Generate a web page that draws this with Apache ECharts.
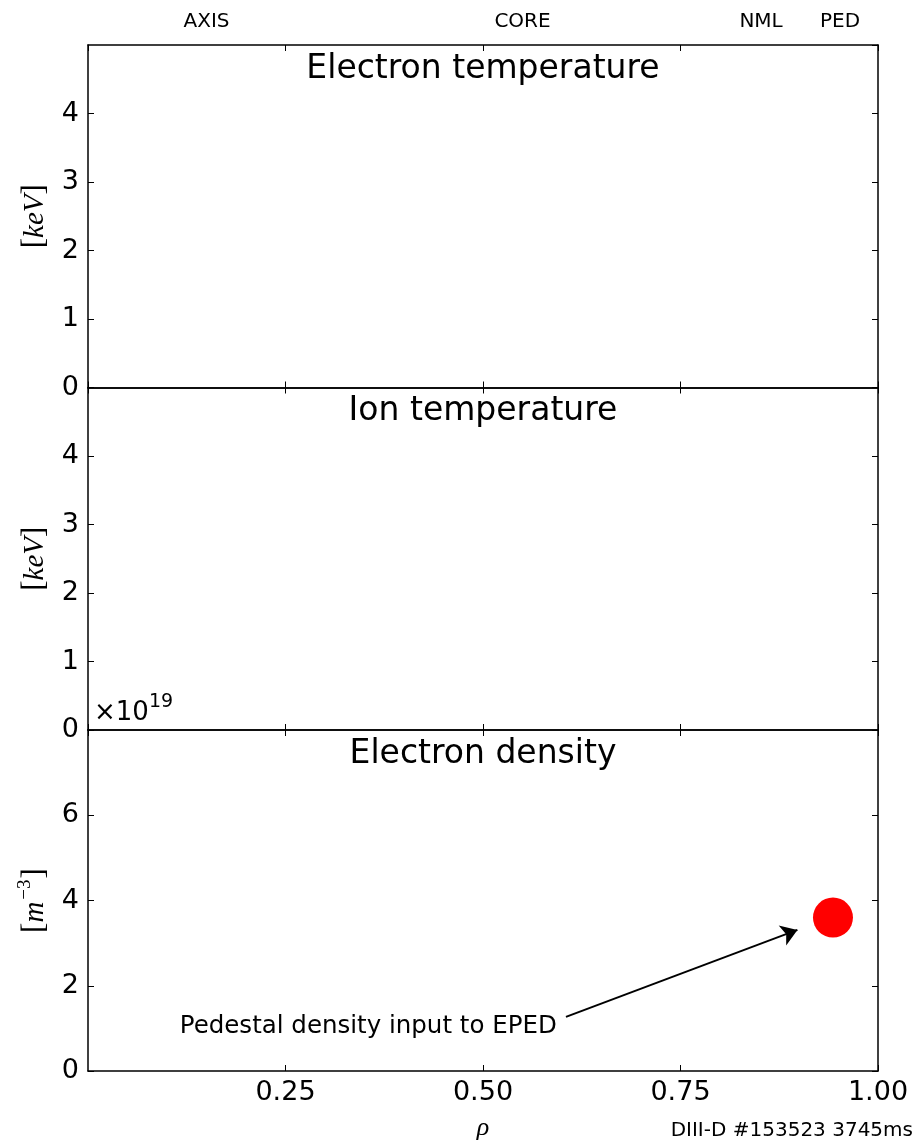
<!DOCTYPE html>
<html><head><meta charset="utf-8">
<script src="https://cdn.jsdelivr.net/npm/echarts@6/dist/echarts.min.js"></script>
<style>html,body{margin:0;padding:0;background:#fff}#c{width:918px;height:1142px}</style>
</head><body><div id="c"></div>
<script>
// ---- data ----
const panelTitles = ['Electron temperature', 'Ion temperature', 'Electron density'];
const yMax = [5, 5, 8];
const yInterval = [1, 1, 2];
const xMin = 0, xMax = 1, xInterval = 0.25;
const regionLabels = ['AXIS', 'CORE', 'NML', 'PED'];
const regionRho = [0.15, 0.55, 0.852, 0.952];
const pedRho = [0.943];
const pedDensity = [3.6];
const arrowFrom = [0.605, 1.27];
const arrowTo = [0.898, 3.31];
const annotationText = 'Pedestal density input to EPED';
const annotationAt = [0.594, 1.05];
const shotText = 'DIII-D #153523 3745ms';

// ---- layout ----
const chart = echarts.init(document.getElementById('c'), null, {renderer: 'canvas'});
const FONT = 'DejaVu Sans';
const SERIF = 'Liberation Serif';
const L = 88, W = 790;
const tops = [45, 387.5, 730];
const heights = [342.5, 342.5, 343];
const grids = tops.map((t, i) => ({left: L, width: W, top: t, height: heights[i], show: false}));
const xAxes = [], yAxes = [];
const axLine = {show: true, onZero: false, lineStyle: {color: '#000', width: 1.5}};
const axTick = {show: true, inside: true, length: 6, lineStyle: {color: '#000', width: 1}};
const unitRich = {
  b: {fontFamily: SERIF, fontSize: 31, color: '#000', lineHeight: 38, verticalAlign: 'bottom'},
  i: {fontFamily: SERIF, fontStyle: 'italic', fontSize: 29, color: '#000', lineHeight: 38, verticalAlign: 'bottom'},
  s: {fontFamily: SERIF, fontSize: 19, color: '#000', lineHeight: 29, verticalAlign: 'top', padding: [4, 1, 0, 2]}
};
const unitNames = ['{b|[}{i|keV}{b|]}', '{b|[}{i|keV}{b|]}', '{b|[}{i|m}{s|−3}{b|]}'];
for (let i = 0; i < 3; i++) {
  xAxes.push({
    type: 'value', gridIndex: i, position: 'bottom', min: xMin, max: xMax, interval: xInterval,
    axisLine: axLine, axisTick: axTick, splitLine: {show: false},
    axisLabel: {show: i === 2, showMinLabel: false, margin: 8, color: '#000', fontFamily: FONT, fontSize: 27,
      formatter: v => v.toFixed(2)},
    name: i === 2 ? 'ρ' : '', nameLocation: 'middle', nameGap: 44,
    nameTextStyle: {fontFamily: SERIF, fontStyle: 'italic', fontSize: 26, color: '#000'}
  });
  xAxes.push({
    type: 'value', gridIndex: i, position: 'top', min: xMin, max: xMax, interval: xInterval,
    axisLine: axLine, axisTick: axTick, splitLine: {show: false}, axisLabel: {show: false}
  });
  yAxes.push({
    type: 'value', gridIndex: i, position: 'left', min: 0, max: yMax[i], interval: yInterval[i],
    axisLine: axLine, axisTick: axTick, splitLine: {show: false},
    axisLabel: {showMaxLabel: false, margin: 9, color: '#000', fontFamily: FONT, fontSize: 27},
    name: unitNames[i], nameLocation: 'middle', nameRotate: 90, nameGap: 38,
    nameTextStyle: {rich: unitRich}
  });
  yAxes.push({
    type: 'value', gridIndex: i, position: 'right', min: 0, max: yMax[i], interval: yInterval[i],
    axisLine: axLine, axisTick: axTick, splitLine: {show: false}, axisLabel: {show: false}
  });
}

const regionY = yMax[0] + (tops[0] - 21.7) / (heights[0] / yMax[0]);
const hiddenPoint = {color: 'rgba(0,0,0,0)', opacity: 1};

const series = [
  {
    type: 'scatter', xAxisIndex: 0, yAxisIndex: 0, clip: false, silent: true,
    symbolSize: 1, itemStyle: hiddenPoint,
    data: regionRho.map((r, k) => [r, regionY, regionLabels[k]]),
    label: {show: true, position: 'inside', formatter: p => p.data[2], color: '#000',
      textBorderWidth: 0, fontFamily: FONT, fontSize: 20}
  },
  {
    type: 'lines', coordinateSystem: 'cartesian2d', xAxisIndex: 4, yAxisIndex: 4, silent: true,
    symbol: ['none', 'arrow'], symbolSize: [0, 16],
    lineStyle: {color: '#000', width: 2, opacity: 1, curveness: 0},
    data: [{coords: [arrowFrom, arrowTo]}]
  },
  {
    type: 'scatter', xAxisIndex: 4, yAxisIndex: 4, silent: true,
    symbolSize: 1, itemStyle: hiddenPoint,
    data: [annotationAt],
    label: {show: true, position: 'left', distance: 0, formatter: annotationText, color: '#000',
      textBorderWidth: 0, fontFamily: FONT, fontSize: 24.5}
  },
  {
    type: 'scatter', xAxisIndex: 4, yAxisIndex: 4, silent: true, z: 5,
    symbol: 'circle', symbolSize: 40, itemStyle: {color: '#ff0000', opacity: 1},
    data: pedRho.map((r, k) => [r, pedDensity[k]])
  }
];

const graphic = [];
panelTitles.forEach((t, i) => {
  graphic.push({type: 'text', x: L + W / 2, y: tops[i] + 24, silent: true,
    style: {text: t, fill: '#000', font: '33px "DejaVu Sans"', align: 'center', verticalAlign: 'middle'}});
});
graphic.push({type: 'text', x: 94, y: 713, silent: true,
  style: {text: '×10', fill: '#000', font: '26px "DejaVu Sans"', align: 'left', verticalAlign: 'middle'}});
graphic.push({type: 'text', x: 149, y: 702, silent: true,
  style: {text: '19', fill: '#000', font: '19px "DejaVu Sans"', align: 'left', verticalAlign: 'middle'}});
graphic.push({type: 'text', x: 913, y: 1131, silent: true,
  style: {text: shotText, fill: '#000', font: '20px "DejaVu Sans"', align: 'right', verticalAlign: 'middle'}});

chart.setOption({
  animation: false,
  backgroundColor: '#fff',
  grid: grids,
  xAxis: xAxes,
  yAxis: yAxes,
  series: series,
  graphic: graphic
});
</script></body></html>
